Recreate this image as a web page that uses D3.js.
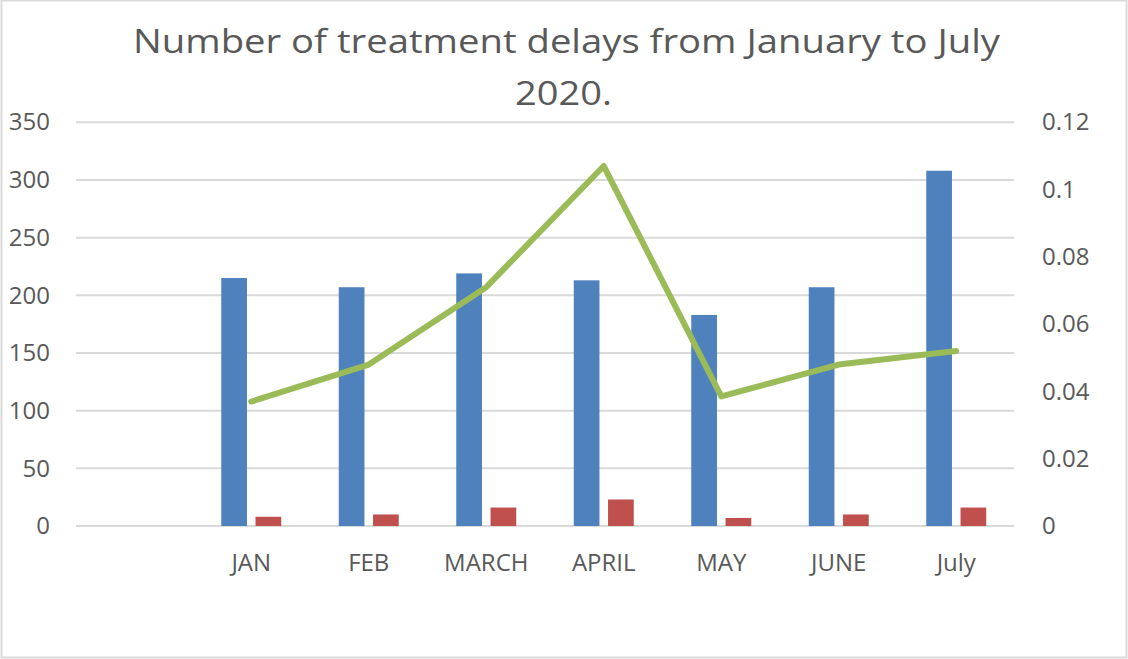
<!DOCTYPE html>
<html>
<head>
<meta charset="utf-8">
<script src="https://cdn.jsdelivr.net/npm/d3@7/dist/d3.min.js"></script>
<style>
  html, body { margin: 0; padding: 0; background: #fff; }
  svg { display: block; }
  text { font-family: "Open Sans", "Noto Sans", sans-serif; fill: #595959; }
</style>
</head>
<body>
<svg id="chart" width="1128" height="659"></svg>
<script>
// ---- data ----
const categories = ["", "JAN", "FEB", "MARCH", "APRIL", "MAY", "JUNE", "July"];
const delaysTotal = [null, 215, 207, 219, 213, 183, 207, 308];
const delaysCount = [null, 8, 10, 16, 23, 7, 10, 16];
const delayRate   = [null, 0.037, 0.048, 0.071, 0.107, 0.0385, 0.048, 0.052];
const leftTicks  = [0, 50, 100, 150, 200, 250, 300, 350];
const rightTicks = [0, 0.02, 0.04, 0.06, 0.08, 0.1, 0.12];
const titleLines = ["Number of treatment delays from January to July", "2020."];

// ---- layout ----
const W = 1128, H = 659;
const plot = { left: 75, right: 1015, top: 122.3, bottom: 526 };
const svg = d3.select("#chart");

svg.append("rect").attr("x", 1.5).attr("y", 0.5).attr("width", W - 3).attr("height", H - 2)
  .attr("fill", "#fff").attr("stroke", "#d9d9d9").attr("stroke-width", 2);

const x = d3.scaleBand().domain(categories.map((d, i) => i)).range([plot.left, plot.right]).padding(0);
const yL = d3.scaleLinear().domain([0, 350]).range([plot.bottom, plot.top]);
const yR = d3.scaleLinear().domain([0, 0.12]).range([plot.bottom, plot.top]);
const sub = d3.scaleBand().domain(["total", "count"]).range([-30, 30]).paddingInner(0.25);

// gridlines
svg.append("g").selectAll("line").data(leftTicks).join("line")
  .attr("x1", plot.left + 1).attr("x2", plot.right - 1)
  .attr("y1", d => yL(d)).attr("y2", d => yL(d))
  .attr("stroke", "#d9d9d9").attr("stroke-width", 2);

// left axis labels
const gl = svg.append("g").attr("transform", `translate(50,0)`)
  .call(d3.axisLeft(yL).tickValues(leftTicks).tickSize(0).tickPadding(0).tickFormat(d3.format("d")));
gl.select(".domain").remove();
gl.selectAll("text").attr("font-size", 24).attr("fill", "#595959")
  .style("font-family", '"Open Sans", sans-serif');

// right axis labels
const gr = svg.append("g").attr("transform", `translate(1042,0)`)
  .call(d3.axisRight(yR).tickValues(rightTicks).tickSize(0).tickPadding(0).tickFormat(d => String(+d.toFixed(2))));
gr.select(".domain").remove();
gr.selectAll("text").attr("font-size", 24).attr("fill", "#595959")
  .style("font-family", '"Open Sans", sans-serif');

// x axis labels
const gx = svg.append("g").attr("transform", `translate(0,${plot.bottom + 28})`)
  .call(d3.axisBottom(x).tickSize(0).tickPadding(0).tickFormat(i => categories[i]));
gx.select(".domain").remove();
gx.selectAll("text").attr("font-size", 24).attr("fill", "#595959").attr("dy", "0.72em")
  .style("font-family", '"Open Sans", sans-serif');

const cx = i => x(i) + x.bandwidth() / 2;

// bars
const idx = d3.range(categories.length).filter(i => delaysTotal[i] != null);
svg.append("g").selectAll("rect").data(idx).join("rect")
  .attr("x", i => cx(i) + sub("total"))
  .attr("width", sub.bandwidth())
  .attr("y", i => yL(delaysTotal[i]))
  .attr("height", i => yL(0) - yL(delaysTotal[i]))
  .attr("fill", "#4f81bd");
svg.append("g").selectAll("rect").data(idx).join("rect")
  .attr("x", i => cx(i) + sub("count"))
  .attr("width", sub.bandwidth())
  .attr("y", i => yL(delaysCount[i]))
  .attr("height", i => yL(0) - yL(delaysCount[i]))
  .attr("fill", "#c0504d");

// line
const line = d3.line().x(i => cx(i)).y(i => yR(delayRate[i]));
svg.append("path").datum(idx.filter(i => delayRate[i] != null)).attr("d", line)
  .attr("fill", "none").attr("stroke", "#9bbb59").attr("stroke-width", 6)
  .attr("stroke-linejoin", "round").attr("stroke-linecap", "round");

// title
svg.append("text").attr("x", 566.5).attr("y", 53).attr("text-anchor", "middle")
  .attr("font-size", 32).attr("textLength", 867).attr("lengthAdjust", "spacingAndGlyphs")
  .text(titleLines[0]);
svg.append("text").attr("x", 563.5).attr("y", 105).attr("text-anchor", "middle")
  .attr("font-size", 33).attr("textLength", 97).attr("lengthAdjust", "spacingAndGlyphs")
  .text(titleLines[1]);
</script>
</body>
</html>
